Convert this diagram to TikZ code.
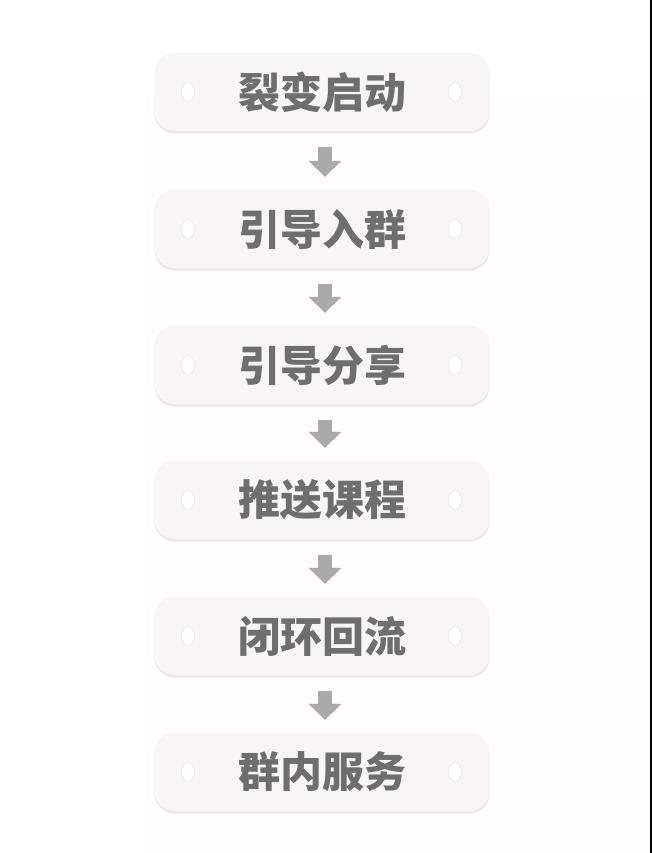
\documentclass[tikz,border=0pt]{standalone}
\usepackage{fontspec}
\newfontfamily\cjk{Noto Sans CJK SC}
\usetikzlibrary{arrows.meta,shadows,shapes.geometric}
\definecolor{boxfill}{HTML}{F7F5F5}
\definecolor{boxshadow}{HTML}{EDE8E8}
\definecolor{txt}{HTML}{6E6E6E}
\definecolor{arr}{HTML}{A9A9A9}
\definecolor{panel}{HTML}{FEFCFD}
\definecolor{holeline}{HTML}{E6E2E2}
\tikzset{
  stepbox/.style={rounded corners=20pt, minimum width=335pt, minimum height=78pt,
    fill=boxfill, draw=none, inner sep=0pt,
    font=\cjk\bfseries\fontsize{42pt}{44pt}\selectfont, text=txt,
    drop shadow={shadow xshift=0pt, shadow yshift=-2.5pt, fill=boxshadow, opacity=1}},
  hole/.style={ellipse, minimum width=13pt, minimum height=19pt, inner sep=0pt, fill=white, draw=holeline, line width=0.6pt},
  flowarrow/.style={draw=arr, line width=14pt, -{Triangle[width=32pt,length=16pt]}, shorten <=16pt, shorten >=13pt}
}
\begin{document}
\begin{tikzpicture}[x=1pt,y=-1pt]
\useasboundingbox (0,0) rectangle (652,853);
\fill[white] (0,0) rectangle (652,853);
\fill[panel] (145,95) rectangle (650,853);
\fill[black] (650,0) rectangle (652,853);
\foreach \n/\yy/\t in {1/92/裂变启动,2/229/引导入群,3/365/引导分享,4/500/推送课程,5/636/闭环回流,6/772/群内服务}{
  \node[stepbox] (b\n) at (322,\yy) {\t};
  \node[hole] (hl\n) at (188,\yy) {};
  \node[hole] (hr\n) at (455,\yy) {};
}
\foreach \a/\b in {1/2,2/3,3/4,4/5,5/6}{
  \draw[flowarrow] (b\a.south -| 325,0) -- (b\b.north -| 325,0);
}
\end{tikzpicture}
\end{document}
